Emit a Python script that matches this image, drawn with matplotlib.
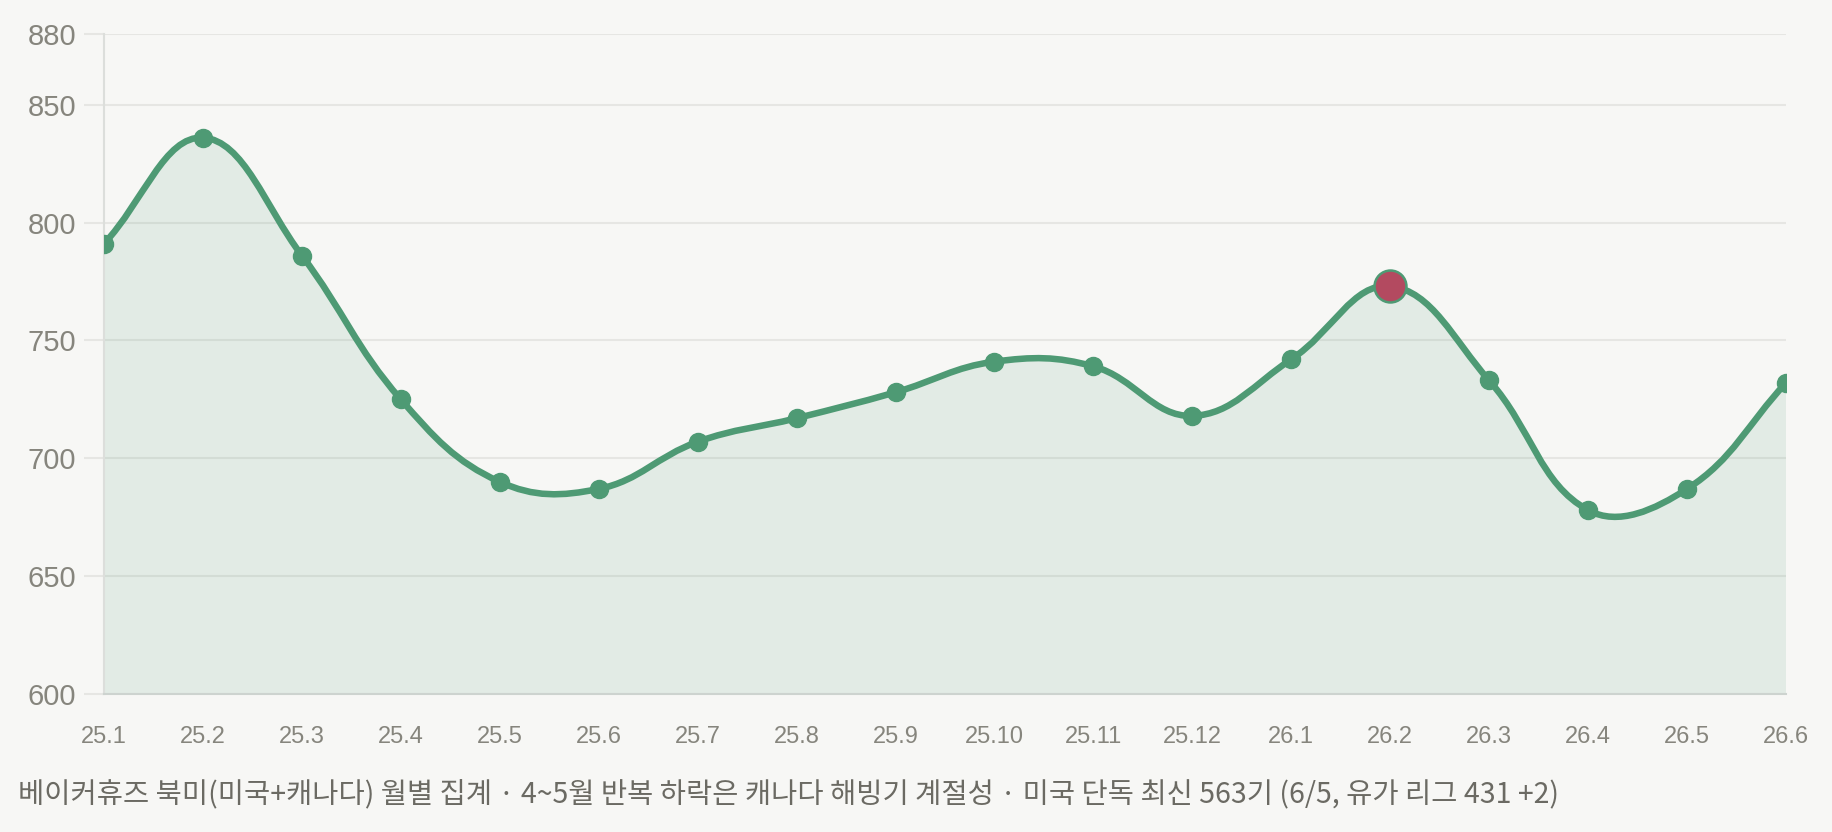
import numpy as np
import matplotlib.pyplot as plt
from matplotlib.path import Path
from matplotlib.patches import PathPatch

# 베이커휴즈 북미 리그 수 (월별)
months = ['25.1', '25.2', '25.3', '25.4', '25.5', '25.6', '25.7', '25.8', '25.9',
          '25.10', '25.11', '25.12', '26.1', '26.2', '26.3', '26.4', '26.5', '26.6']
rigs = [791, 836, 786, 725, 690, 687, 707, 717, 728, 741, 739, 718, 742, 773, 733, 678, 687, 732]
highlight = '26.2'
yticks = [600, 650, 700, 750, 800, 850, 880]
caption = '베이커휴즈 북미(미국+캐나다) 월별 집계 · 4~5월 반복 하락은 캐나다 해빙기 계절성 · 미국 단독 최신 563기 (6/5, 유가 리그 431 +2)'

bg = '#f7f7f5'
green = '#4e9a74'
red = '#b34a60'
tick_c = '#86857d'
grid_c = '#e6e6e3'

fig = plt.figure(figsize=(18.32, 8.32), dpi=100)
fig.patch.set_facecolor(bg)
ax = fig.add_axes([104/1832, 1-694/832, (1786-104)/1832, (694-34)/832])
ax.set_facecolor(bg)

x = np.arange(len(months))
ax.set_xlim(0, len(months)-1)
ax.set_ylim(600, 880)

# chart.js 스타일 베지어 곡선 (tension 0.4), 픽셀 공간에서 계산
pts = ax.transData.transform(np.column_stack([x, rigs]).astype(float))
n = len(pts)
cp_prev = pts.copy()
cp_next = pts.copy()
t = 0.4
for i in range(n):
    a = pts[max(i-1, 0)]
    b = pts[i]
    c = pts[min(i+1, n-1)]
    d01 = np.hypot(*(b-a))
    d12 = np.hypot(*(c-b))
    tot = d01 + d12
    s01 = d01/tot if tot else 0
    s12 = d12/tot if tot else 0
    cp_prev[i] = b - t*s01*(c-a)
    cp_next[i] = b + t*s12*(c-a)

inv = ax.transData.inverted()
verts = [pts[0]]
codes = [Path.MOVETO]
for i in range(n-1):
    verts += [cp_next[i], cp_prev[i+1], pts[i+1]]
    codes += [Path.CURVE4]*3
verts = inv.transform(np.array(verts))

line_path = Path(verts, codes)
fill_verts = np.vstack([verts, [[x[-1], 600], [x[0], 600], verts[0]]])
fill_codes = codes + [Path.LINETO, Path.LINETO, Path.CLOSEPOLY]
ax.add_patch(PathPatch(Path(fill_verts, fill_codes), facecolor=green, alpha=0.12,
                       edgecolor='none', zorder=2))
ax.add_patch(PathPatch(line_path, facecolor='none', edgecolor=green, lw=4.7,
                       capstyle='round', joinstyle='round', zorder=3))

normal = [i for i, m in enumerate(months) if m != highlight]
hi = months.index(highlight)
ax.plot(x[normal], np.array(rigs)[normal], 'o', color=green, ms=13, zorder=4)
ax.plot(x[hi], rigs[hi], 'o', color=red, mec=green, mew=1.8, ms=23, zorder=5)

ax.set_yticks(yticks)
ax.set_xticks(x)
ax.set_xticklabels(months)
ax.yaxis.grid(True, color=grid_c, lw=1.5, zorder=1)
ax.set_axisbelow(True)
ax.tick_params(axis='y', length=14.4, width=1.5, color=grid_c, pad=5.8,
               labelsize=21, labelcolor=tick_c)
ax.tick_params(axis='x', length=0, pad=23, labelsize=17, labelcolor=tick_c)
for lab in ax.get_xticklabels() + ax.get_yticklabels():
    lab.set_fontfamily('Liberation Sans')

for s in ['top', 'right']:
    ax.spines[s].set_visible(False)
ax.spines['left'].set_color('#dcdedb')
ax.spines['left'].set_linewidth(1.5)
ax.spines['bottom'].set_color('#cdd3cf')
ax.spines['bottom'].set_linewidth(1.5)

fig.text(18/1832, 1-795/832, caption, fontsize=20.5, color='#6b6a63', va='center',
         ha='left', family=['Noto Sans CJK KR', 'DejaVu Sans'])

fig.savefig('out.png', dpi=100, facecolor=bg)
